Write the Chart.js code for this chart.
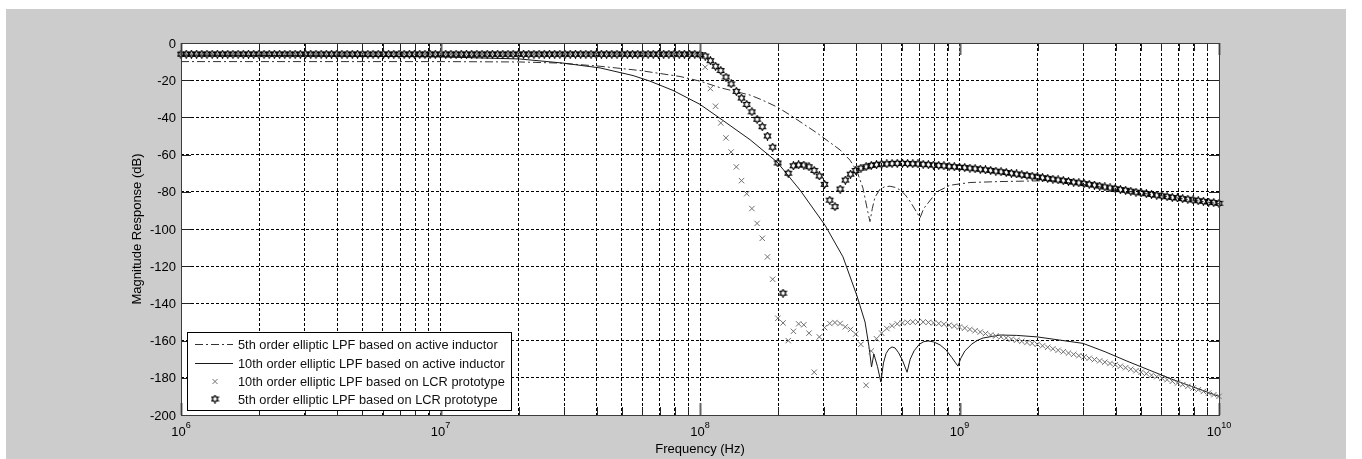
<!DOCTYPE html>
<html>
<head>
<meta charset="utf-8">
<script src="https://cdn.jsdelivr.net/npm/chart.js@4.4.0/dist/chart.umd.min.js"></script>
<style>
  html, body { margin: 0; padding: 0; background: #fff; }
  #wrap { width: 1362px; height: 459px; }
</style>
</head>
<body>
<div id="wrap"><canvas id="respChart" width="1362" height="459"></canvas></div>
<script>
// sample grid of the LCR prototype responses (log10 of frequency in Hz)
const lcrLogF = [
  6.00,6.02,6.04,6.06,6.08,6.10,6.12,6.14,6.16,6.18,
  6.20,6.22,6.24,6.26,6.28,6.30,6.32,6.34,6.36,6.38,
  6.40,6.42,6.44,6.46,6.48,6.50,6.52,6.54,6.56,6.58,
  6.60,6.62,6.64,6.66,6.68,6.70,6.72,6.74,6.76,6.78,
  6.80,6.82,6.84,6.86,6.88,6.90,6.92,6.94,6.96,6.98,
  7.00,7.02,7.04,7.06,7.08,7.10,7.12,7.14,7.16,7.18,
  7.20,7.22,7.24,7.26,7.28,7.30,7.32,7.34,7.36,7.38,
  7.40,7.42,7.44,7.46,7.48,7.50,7.52,7.54,7.56,7.58,
  7.60,7.62,7.64,7.66,7.68,7.70,7.72,7.74,7.76,7.78,
  7.80,7.82,7.84,7.86,7.88,7.90,7.92,7.94,7.96,7.98,
  8.00,8.02,8.04,8.06,8.08,8.10,8.12,8.14,8.16,8.18,
  8.20,8.22,8.24,8.26,8.28,8.30,8.32,8.34,8.36,8.38,
  8.40,8.42,8.44,8.46,8.48,8.50,8.52,8.54,8.56,8.58,
  8.60,8.62,8.64,8.66,8.68,8.70,8.72,8.74,8.76,8.78,
  8.80,8.82,8.84,8.86,8.88,8.90,8.92,8.94,8.96,8.98,
  9.00,9.02,9.04,9.06,9.08,9.10,9.12,9.14,9.16,9.18,
  9.20,9.22,9.24,9.26,9.28,9.30,9.32,9.34,9.36,9.38,
  9.40,9.42,9.44,9.46,9.48,9.50,9.52,9.54,9.56,9.58,
  9.60,9.62,9.64,9.66,9.68,9.70,9.72,9.74,9.76,9.78,
  9.80,9.82,9.84,9.86,9.88,9.90,9.92,9.94,9.96,9.98,
  10.00
];

// 5th order elliptic LPF based on LCR prototype (dB)
const lcr5th = [
  -6,-6,-6,-6,-6,-6,-6,-6,-6,-6,
  -6,-6,-6,-6,-6,-6,-6,-6,-6,-6,
  -6,-6,-6,-6,-6,-6,-6,-6,-6,-6,
  -6,-6,-6,-6,-6,-6,-6,-6,-6,-6,
  -6,-6,-6,-6,-6,-6,-6,-6,-6,-6,
  -6,-6,-6,-6,-6,-6,-6,-6,-6,-6,
  -6,-6,-6,-6,-6,-6,-6,-6,-6,-6,
  -6,-6,-6,-6,-6,-6,-6,-6,-6,-6,
  -6,-6,-6,-6,-6,-6,-6,-6,-6,-6,
  -6,-6,-6,-6,-6,-6,-6,-6,-6,-6,
  -6.2,-7,-9.5,-12.5,-14.8,-18.3,-22,-26,-29.6,-33,
  -37,-41,-45,-50,-56,-64.5,-134.5,-70,-66,-65.5,
  -65.6,-66.5,-68.5,-71.5,-76,-84.5,-88,-78.5,-73.7,-70.5,
  -68.5,-67.3,-66.5,-65.8,-65.4,-65.1,-65,-64.8,-64.7,-64.7,
  -64.8,-64.9,-65,-65.2,-65.4,-65.6,-65.8,-66,-66.3,-66.5,
  -66.8,-67,-67.3,-67.6,-67.9,-68.2,-68.5,-68.9,-69.2,-69.6,
  -70,-70.4,-70.8,-71.2,-71.6,-72,-72.4,-72.8,-73.2,-73.6,
  -74,-74.4,-74.8,-75.2,-75.6,-76,-76.4,-76.9,-77.4,-77.9,
  -78.3,-78.8,-79.2,-79.7,-80.2,-80.6,-81,-81.4,-81.8,-82.2,
  -82.6,-83,-83.3,-83.7,-84,-84.4,-84.8,-85.1,-85.5,-85.8,
  -86.2
];

// 10th order elliptic LPF based on LCR prototype (dB)
const lcr10th = [
  -6,-6,-6,-6,-6,-6,-6,-6,-6,-6,
  -6,-6,-6,-6,-6,-6,-6,-6,-6,-6,
  -6,-6,-6,-6,-6,-6,-6,-6,-6,-6,
  -6,-6,-6,-6,-6,-6,-6,-6,-6,-6,
  -6,-6,-6,-6,-6,-6,-6,-6,-6,-6,
  -6,-6,-6,-6,-6,-6,-6,-6,-6,-6,
  -6,-6,-6,-6,-6,-6,-6,-6,-6,-6,
  -6,-6,-6,-6,-6,-6,-6,-6,-6,-6,
  -6,-6,-6,-6,-6,-6,-6,-6,-6,-6,
  -6,-6,-6,-6,-6,-6,-6,-6,-6,-6,
  -6.5,-13,-24.5,-34,-43,-51,-58.6,-66.6,-74,-81,
  -89,-97,-105,-115,-127,-148,-150.5,-160,-155,-151,
  -151.5,-156,-177,-158,-153,-150.8,-150.3,-150.8,-152.6,-154,
  -156.5,-162,-184,-165.6,-159,-156,-153.5,-152,-151,-150.5,
  -150.2,-150,-150,-150,-150.2,-150.5,-150.8,-151.2,-151.7,-152.2,
  -152.7,-153.3,-154,-154.7,-155.4,-156.2,-157,-157.5,-158,-158.6,
  -159.2,-159.8,-160.4,-161,-161.5,-162,-162.8,-163.6,-164.4,-165.2,
  -166,-166.7,-167.4,-168.1,-168.8,-169.5,-170.2,-170.9,-171.6,-172.3,
  -173,-173.8,-174.6,-175.4,-176.2,-177,-177.8,-178.6,-179.4,-180.2,
  -181,-181.9,-182.8,-183.7,-184.6,-185.5,-186.4,-187.3,-188.2,-189.1,
  -190
];

// 5th order elliptic LPF based on active inductor
const ai5thLogF = [6.0, 7.0, 7.306, 7.46, 7.615, 7.769, 7.923, 8.0, 8.077, 8.193, 8.239, 8.297, 8.347, 8.451,
  8.54, 8.578, 8.605, 8.628, 8.647, 8.655, 8.664, 8.674, 8.694, 8.712, 8.732, 8.752, 8.771, 8.79, 8.809, 8.848,
  8.862, 8.879, 8.913, 8.963, 9.04, 9.156, 9.349, 9.476, 9.696, 10.0];
const ai5th = [-10, -10, -10.2, -10.8, -12.5, -14.8, -18, -20.5, -24, -28, -30.6, -34.4, -38.7, -48.4,
  -57.5, -63, -69, -78, -91, -96, -89, -83, -78.5, -77.3, -77, -77.6, -79, -81.5, -85, -94,
  -89, -86, -80, -76.5, -75, -74.5, -74, -76, -80.6, -86.4];

// 10th order elliptic LPF based on active inductor
const ai10thLogF = [6.0, 6.459, 7.0, 7.152, 7.306, 7.472, 7.615, 7.742, 7.807, 7.896, 8.0, 8.077, 8.193, 8.297,
  8.385, 8.482, 8.551, 8.605, 8.636, 8.651, 8.661, 8.67, 8.684, 8.697, 8.707, 8.717, 8.728, 8.74, 8.752, 8.765,
  8.78, 8.798, 8.81, 8.825, 8.845, 8.862, 8.879, 8.9, 8.925, 8.948, 8.97, 8.985, 8.994, 9.005, 9.021, 9.048,
  9.07, 9.091, 9.156, 9.22, 9.299, 9.476, 9.561, 9.645, 9.823, 10.0];
const ai10th = [-6.5, -6.8, -7.5, -8, -8.6, -10.8, -13.4, -17.5, -20.5, -25.5, -33, -40.5, -52, -64,
  -79, -98, -115, -136, -150, -163, -174.2, -167.2, -174, -182.3, -172, -167, -164.5, -163.4, -164, -166.5,
  -170.5, -177, -170, -165.5, -162, -160.6, -160.2, -160.7, -162.3, -165, -169, -172, -173.7, -169.5, -165.5, -161.8,
  -159.8, -158.6, -157, -157.2, -158, -161.5, -166, -171, -181, -190];

const seriesLabels = [
  "5th order elliptic LPF based on active inductor",
  "10th order elliptic LPF based on active inductor",
  "10th order elliptic LPF based on LCR prototype",
  "5th order elliptic LPF based on LCR prototype"
];

const yTickValues = [0, -20, -40, -60, -80, -100, -120, -140, -160, -180, -200];
const xDecadeExps = [6, 7, 8, 9, 10];
const minorMultipliers = [2, 3, 4, 5, 6, 7, 8, 9];

const FONT = '"Liberation Sans", Arial, sans-serif';

// grid positions on the log axis (majors + minors)
const xGridValues = [];
xDecadeExps.forEach(e => {
  xGridValues.push(Math.pow(10, e));
  if (e < 10) minorMultipliers.forEach(m => xGridValues.push(m * Math.pow(10, e)));
});

function toPoints(logF, vals) {
  return logF.map((e, i) => ({ x: Math.pow(10, e), y: vals[i] }));
}

// MATLAB-like hexagram marker
function makeHexagram(size, color) {
  const c = document.createElement("canvas");
  c.width = size; c.height = size;
  const g = c.getContext("2d");
  const cx = size / 2, cy = size / 2, ro = size / 2 - 0.8, ri = ro / Math.sqrt(3);
  g.strokeStyle = color;
  g.lineWidth = 1.15;
  g.beginPath();
  for (let k = 0; k < 12; k++) {
    const a = -Math.PI / 2 + k * Math.PI / 6;
    const r = k % 2 === 0 ? ro : ri;
    const px = cx + r * Math.cos(a), py = cy + r * Math.sin(a);
    if (k === 0) g.moveTo(px, py); else g.lineTo(px, py);
  }
  g.closePath();
  g.stroke();
  return c;
}
const hexMarker = makeHexagram(9, "#000");

const dashDot = [8, 3, 2, 3];

const framePlugin = {
  id: "matlabFrame",
  beforeDraw(chart) {
    const ctx = chart.ctx, a = chart.chartArea;
    ctx.save();
    ctx.fillStyle = "#fff";
    ctx.fillRect(0, 0, chart.width, chart.height);
    ctx.fillStyle = "#cccccc";
    ctx.fillRect(6, 9, 1340, chart.height - 9);
    ctx.fillStyle = "#fff";
    ctx.fillRect(a.left, a.top, a.right - a.left, a.bottom - a.top);
    ctx.restore();
  },
  afterDraw(chart) {
    const ctx = chart.ctx, a = chart.chartArea;
    const xs = chart.scales.x, ys = chart.scales.y;
    ctx.save();

    // inner ticks
    xGridValues.forEach(v => {
      const px = Math.round(xs.getPixelForValue(v)) + 0.5;
      const major = Math.abs(Math.log10(v) - Math.round(Math.log10(v))) < 1e-9;
      const len = major ? 12 : 8;
      ctx.strokeStyle = major ? "#666" : "#222";
      ctx.lineWidth = major ? 2 : 1;
      ctx.beginPath();
      ctx.moveTo(px, a.bottom); ctx.lineTo(px, a.bottom - len);
      ctx.moveTo(px, a.top); ctx.lineTo(px, a.top + len);
      ctx.stroke();
    });
    ctx.lineWidth = 1;
    ctx.strokeStyle = "#222";
    yTickValues.forEach(v => {
      const py = Math.round(ys.getPixelForValue(v)) + 0.5;
      ctx.beginPath();
      ctx.moveTo(a.left, py); ctx.lineTo(a.left + 10, py);
      ctx.moveTo(a.right, py); ctx.lineTo(a.right - 10, py);
      ctx.stroke();
    });

    // box
    ctx.strokeStyle = "#3c3c3c";
    ctx.lineWidth = 1;
    ctx.strokeRect(Math.round(a.left) + 0.5, Math.round(a.top) + 0.5,
      Math.round(a.right - a.left), Math.round(a.bottom - a.top));

    // y tick labels
    ctx.fillStyle = "#000";
    ctx.font = "13px " + FONT;
    ctx.textAlign = "right";
    ctx.textBaseline = "middle";
    yTickValues.forEach(v => {
      ctx.fillText(String(v), a.left - 5, ys.getPixelForValue(v) + 1);
    });

    // x tick labels: 10^n
    ctx.textBaseline = "alphabetic";
    ctx.textAlign = "left";
    xDecadeExps.forEach(e => {
      const px = xs.getPixelForValue(Math.pow(10, e));
      ctx.font = "13px " + FONT;
      const wb = ctx.measureText("10").width;
      ctx.font = "9px " + FONT;
      const we = ctx.measureText(String(e)).width;
      const x0 = px - (wb + we) / 2;
      ctx.font = "13px " + FONT;
      ctx.fillText("10", x0, a.bottom + 21);
      ctx.font = "9px " + FONT;
      ctx.fillText(String(e), x0 + wb, a.bottom + 13);
    });

    // axis titles
    ctx.font = "13px " + FONT;
    ctx.textAlign = "center";
    ctx.textBaseline = "middle";
    ctx.fillText("Frequency (Hz)", (a.left + a.right) / 2, a.bottom + 34);
    ctx.translate(137, (a.top + a.bottom) / 2);
    ctx.rotate(-Math.PI / 2);
    ctx.fillText("Magnitude Response (dB)", 0, 0);
    ctx.setTransform(1, 0, 0, 1, 0, 0);

    // legend box
    const lx = 187, ly = 332, lw = 324, lh = 78;
    ctx.fillStyle = "#fff";
    ctx.fillRect(lx, ly, lw, lh);
    ctx.strokeStyle = "#000";
    ctx.lineWidth = 1;
    ctx.strokeRect(lx + 0.5, ly + 0.5, lw, lh);
    const rows = [344, 363, 381, 399];
    ctx.font = "12.8px " + FONT;
    ctx.textAlign = "left";
    ctx.textBaseline = "middle";
    rows.forEach((ry, i) => {
      const y = ry + 0.5;
      if (i === 0 || i === 1) {
        ctx.strokeStyle = i === 0 ? "#333" : "#1a1a1a";
        ctx.lineWidth = 1;
        ctx.setLineDash(i === 0 ? dashDot : []);
        ctx.beginPath();
        ctx.moveTo(195, y); ctx.lineTo(233, y);
        ctx.stroke();
        ctx.setLineDash([]);
      } else if (i === 2) {
        ctx.strokeStyle = "#707070";
        ctx.lineWidth = 1;
        ctx.beginPath();
        ctx.moveTo(212.5, y - 2.5); ctx.lineTo(217.5, y + 2.5);
        ctx.moveTo(217.5, y - 2.5); ctx.lineTo(212.5, y + 2.5);
        ctx.stroke();
      } else {
        ctx.drawImage(hexMarker, 215 - 4.5, ry - 4.5);
      }
      ctx.fillStyle = "#111";
      ctx.fillText(seriesLabels[i], 238, ry + 1);
    });
    ctx.restore();
  }
};

const ctx = document.getElementById("respChart").getContext("2d");
const respChart = new Chart(ctx, {
  type: "scatter",
  data: {
    datasets: [
      {
        label: seriesLabels[3],
        data: toPoints(lcrLogF, lcr5th),
        showLine: false,
        pointStyle: hexMarker,
        pointRadius: 4,
        clip: false,
        order: 1
      },
      {
        label: seriesLabels[2],
        data: toPoints(lcrLogF, lcr10th),
        showLine: false,
        pointStyle: "crossRot",
        pointRadius: 3.8,
        borderColor: "#707070",
        borderWidth: 1,
        clip: false,
        order: 2
      },
      {
        label: seriesLabels[1],
        data: toPoints(ai10thLogF, ai10th),
        showLine: true,
        borderColor: "#1a1a1a",
        borderWidth: 1,
        pointRadius: 0,
        tension: 0,
        order: 3
      },
      {
        label: seriesLabels[0],
        data: toPoints(ai5thLogF, ai5th),
        showLine: true,
        borderColor: "#333",
        borderWidth: 1,
        borderDash: dashDot,
        pointRadius: 0,
        tension: 0,
        order: 4
      }
    ]
  },
  options: {
    responsive: false,
    animation: false,
    devicePixelRatio: 1,
    layout: { padding: { left: 181, top: 43, right: 143, bottom: 44 } },
    plugins: { legend: { display: false }, tooltip: { enabled: false } },
    scales: {
      x: {
        type: "logarithmic",
        min: 1e6,
        max: 1e10,
        ticks: { display: false },
        grid: { color: "#000", lineWidth: 1, drawTicks: false },
        border: { display: false, dash: [3, 2] },
        afterBuildTicks: scale => {
          scale.ticks = xGridValues.map(v => ({ value: v }));
        }
      },
      y: {
        type: "linear",
        min: -200,
        max: 0,
        ticks: { display: false, stepSize: 20 },
        grid: { color: "#000", lineWidth: 1, drawTicks: false },
        border: { display: false, dash: [3, 2] }
      }
    }
  },
  plugins: [framePlugin]
});
</script>
</body>
</html>
